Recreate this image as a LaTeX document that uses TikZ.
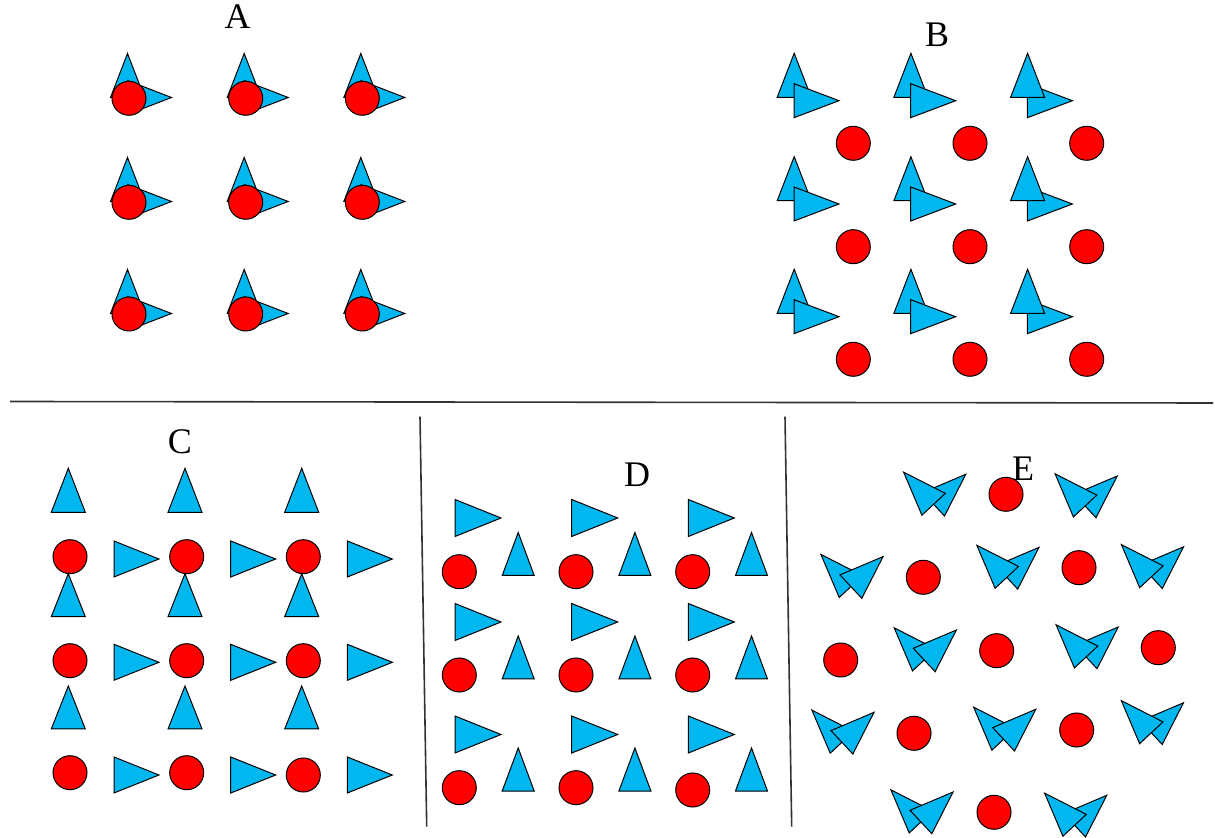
\documentclass[tikz,border=0pt]{standalone}
\usepackage{fontspec}
\setmainfont{Liberation Serif}
\usepackage{tikz}
\usepackage{xcolor}
\definecolor{molblue}{RGB}{0,183,240}
\definecolor{atomred}{RGB}{255,0,0}
\tikzset{
  tri/.style={draw=black,fill=molblue,line width=0.5pt,line join=miter},
  atom/.style={draw=black,fill=atomred,line width=0.5pt},
  divider/.style={draw=black!80,line width=0.8pt},
  panel/.style={inner sep=0pt,font=\fontsize{18}{20}\selectfont}
}

\begin{document}
\begin{tikzpicture}[x=0.5pt,y=-0.5pt]
\useasboundingbox (0,0) rectangle (1215,838);

\draw[divider] (10,401.5) -- (1213,403);
\draw[divider] (420,416.7) -- (426.7,826.7);
\draw[divider] (785,416.7) -- (791.7,826.7);

\node[panel] (labA) at (237.5,17) {A};
\node[panel] (labB) at (937,35) {B};
\node[panel] (labC) at (180,442) {C};
\node[panel] (labD) at (637,475) {D};
\node[panel] (labE) at (1023,469) {E};

\draw[tri] (127.5,97.5) ++(-17,0) -- ++(34,0) -- ++(-17,-44) -- cycle;
\draw[tri] (127.5,97.5) ++(0,-17) -- ++(0,34) -- ++(44,-17) -- cycle;
\draw[atom] (129,98.3) circle[radius=8.5pt];
\draw[tri] (244.2,97.5) ++(-17,0) -- ++(34,0) -- ++(-17,-44) -- cycle;
\draw[tri] (244.2,97.5) ++(0,-17) -- ++(0,34) -- ++(44,-17) -- cycle;
\draw[atom] (245.7,98.3) circle[radius=8.5pt];
\draw[tri] (360.8,97.5) ++(-17,0) -- ++(34,0) -- ++(-17,-44) -- cycle;
\draw[tri] (360.8,97.5) ++(0,-17) -- ++(0,34) -- ++(44,-17) -- cycle;
\draw[atom] (362.3,98.3) circle[radius=8.5pt];
\draw[tri] (127.5,201.5) ++(-17,0) -- ++(34,0) -- ++(-17,-44) -- cycle;
\draw[tri] (127.5,201.5) ++(0,-17) -- ++(0,34) -- ++(44,-17) -- cycle;
\draw[atom] (129,202.3) circle[radius=8.5pt];
\draw[tri] (244.2,201.5) ++(-17,0) -- ++(34,0) -- ++(-17,-44) -- cycle;
\draw[tri] (244.2,201.5) ++(0,-17) -- ++(0,34) -- ++(44,-17) -- cycle;
\draw[atom] (245.7,202.3) circle[radius=8.5pt];
\draw[tri] (360.8,201.5) ++(-17,0) -- ++(34,0) -- ++(-17,-44) -- cycle;
\draw[tri] (360.8,201.5) ++(0,-17) -- ++(0,34) -- ++(44,-17) -- cycle;
\draw[atom] (362.3,202.3) circle[radius=8.5pt];
\draw[tri] (127.5,313.5) ++(-17,0) -- ++(34,0) -- ++(-17,-44) -- cycle;
\draw[tri] (127.5,313.5) ++(0,-17) -- ++(0,34) -- ++(44,-17) -- cycle;
\draw[atom] (129,314) circle[radius=8.5pt];
\draw[tri] (244.2,313.5) ++(-17,0) -- ++(34,0) -- ++(-17,-44) -- cycle;
\draw[tri] (244.2,313.5) ++(0,-17) -- ++(0,34) -- ++(44,-17) -- cycle;
\draw[atom] (245.7,314) circle[radius=8.5pt];
\draw[tri] (360.8,313.5) ++(-17,0) -- ++(34,0) -- ++(-17,-44) -- cycle;
\draw[tri] (360.8,313.5) ++(0,-17) -- ++(0,34) -- ++(44,-17) -- cycle;
\draw[atom] (362.3,314) circle[radius=8.5pt];

\draw[tri] (794.2,97.3) ++(-17,0) -- ++(34,0) -- ++(-17,-44) -- cycle;
\draw[tri] (794,100.7) ++(0,-17) -- ++(0,34) -- ++(45,-17) -- cycle;
\draw[atom] (853.3,143.3) circle[radius=8.5pt];
\draw[tri] (910.9,97.3) ++(-17,0) -- ++(34,0) -- ++(-17,-44) -- cycle;
\draw[tri] (910.7,100.7) ++(0,-17) -- ++(0,34) -- ++(45,-17) -- cycle;
\draw[atom] (970,143.3) circle[radius=8.5pt];
\draw[tri] (1027.4,100.7) ++(0,-17) -- ++(0,34) -- ++(45,-17) -- cycle;
\draw[tri] (1027.6,97.3) ++(-17,0) -- ++(34,0) -- ++(-17,-44) -- cycle;
\draw[atom] (1086.7,143.3) circle[radius=8.5pt];
\draw[tri] (794.2,200.7) ++(-17,0) -- ++(34,0) -- ++(-17,-44) -- cycle;
\draw[tri] (794,204) ++(0,-17) -- ++(0,34) -- ++(45,-17) -- cycle;
\draw[atom] (853.3,246.7) circle[radius=8.5pt];
\draw[tri] (910.9,200.7) ++(-17,0) -- ++(34,0) -- ++(-17,-44) -- cycle;
\draw[tri] (910.7,204) ++(0,-17) -- ++(0,34) -- ++(45,-17) -- cycle;
\draw[atom] (970,246.7) circle[radius=8.5pt];
\draw[tri] (1027.4,204) ++(0,-17) -- ++(0,34) -- ++(45,-17) -- cycle;
\draw[tri] (1027.6,200.7) ++(-17,0) -- ++(34,0) -- ++(-17,-44) -- cycle;
\draw[atom] (1086.7,246.7) circle[radius=8.5pt];
\draw[tri] (794.2,313.3) ++(-17,0) -- ++(34,0) -- ++(-17,-44) -- cycle;
\draw[tri] (794,316.7) ++(0,-17) -- ++(0,34) -- ++(45,-17) -- cycle;
\draw[atom] (853.3,359.3) circle[radius=8.5pt];
\draw[tri] (910.9,313.3) ++(-17,0) -- ++(34,0) -- ++(-17,-44) -- cycle;
\draw[tri] (910.7,316.7) ++(0,-17) -- ++(0,34) -- ++(45,-17) -- cycle;
\draw[atom] (970,359.3) circle[radius=8.5pt];
\draw[tri] (1027.4,316.7) ++(0,-17) -- ++(0,34) -- ++(45,-17) -- cycle;
\draw[tri] (1027.6,313.3) ++(-17,0) -- ++(34,0) -- ++(-17,-44) -- cycle;
\draw[atom] (1086.7,359.3) circle[radius=8.5pt];

\draw[tri] (68.3,512.3) ++(-17,0) -- ++(34,0) -- ++(-17,-44) -- cycle;
\draw[tri] (185,512.3) ++(-17,0) -- ++(34,0) -- ++(-17,-44) -- cycle;
\draw[tri] (301.7,512.3) ++(-17,0) -- ++(34,0) -- ++(-17,-44) -- cycle;
\draw[atom] (70,556.7) circle[radius=8.5pt];
\draw[atom] (186.7,556.7) circle[radius=8.5pt];
\draw[atom] (303.3,556.7) circle[radius=8.5pt];
\draw[tri] (114,559) ++(0,-18) -- ++(0,36) -- ++(45,-18) -- cycle;
\draw[tri] (230.7,559) ++(0,-18) -- ++(0,36) -- ++(45,-18) -- cycle;
\draw[tri] (347.3,559) ++(0,-18) -- ++(0,36) -- ++(45,-18) -- cycle;
\draw[tri] (68.3,616.7) ++(-17,0) -- ++(34,0) -- ++(-17,-43) -- cycle;
\draw[tri] (185,616.7) ++(-17,0) -- ++(34,0) -- ++(-17,-43) -- cycle;
\draw[tri] (301.7,616.7) ++(-17,0) -- ++(34,0) -- ++(-17,-43) -- cycle;
\draw[atom] (70,660.7) circle[radius=8.5pt];
\draw[atom] (186.7,660.7) circle[radius=8.5pt];
\draw[atom] (303.3,660.7) circle[radius=8.5pt];
\draw[tri] (114,662.3) ++(0,-18) -- ++(0,36) -- ++(45,-18) -- cycle;
\draw[tri] (230.7,662.3) ++(0,-18) -- ++(0,36) -- ++(45,-18) -- cycle;
\draw[tri] (347.3,662.3) ++(0,-18) -- ++(0,36) -- ++(45,-18) -- cycle;
\draw[tri] (68.3,729) ++(-17,0) -- ++(34,0) -- ++(-17,-43) -- cycle;
\draw[tri] (185,729) ++(-17,0) -- ++(34,0) -- ++(-17,-43) -- cycle;
\draw[tri] (301.7,729) ++(-17,0) -- ++(34,0) -- ++(-17,-43) -- cycle;
\draw[atom] (70,772.7) circle[radius=8.5pt];
\draw[atom] (186.7,772.7) circle[radius=8.5pt];
\draw[atom] (303.3,775) circle[radius=8.5pt];
\draw[tri] (114,775) ++(0,-18) -- ++(0,36) -- ++(45,-18) -- cycle;
\draw[tri] (230.7,775) ++(0,-18) -- ++(0,36) -- ++(45,-18) -- cycle;
\draw[tri] (347.3,775) ++(0,-18) -- ++(0,36) -- ++(45,-18) -- cycle;

\draw[tri] (455,518) ++(0,-18.5) -- ++(0,37) -- ++(46,-18.5) -- cycle;
\draw[tri] (571.7,518) ++(0,-18.5) -- ++(0,37) -- ++(46,-18.5) -- cycle;
\draw[tri] (688.3,518) ++(0,-18.5) -- ++(0,37) -- ++(46,-18.5) -- cycle;
\draw[tri] (518.2,575.5) ++(-16,0) -- ++(32,0) -- ++(-16,-43) -- cycle;
\draw[tri] (634.9,575.5) ++(-16,0) -- ++(32,0) -- ++(-16,-43) -- cycle;
\draw[tri] (751.5,575.5) ++(-16,0) -- ++(32,0) -- ++(-16,-43) -- cycle;
\draw[atom] (459.3,571.7) circle[radius=8.5pt];
\draw[atom] (576,571.7) circle[radius=8.5pt];
\draw[atom] (692.7,571.7) circle[radius=8.5pt];
\draw[tri] (455,622) ++(0,-18.5) -- ++(0,37) -- ++(46,-18.5) -- cycle;
\draw[tri] (571.7,622) ++(0,-18.5) -- ++(0,37) -- ++(46,-18.5) -- cycle;
\draw[tri] (688.3,622) ++(0,-18.5) -- ++(0,37) -- ++(46,-18.5) -- cycle;
\draw[tri] (518.2,679) ++(-16,0) -- ++(32,0) -- ++(-16,-43) -- cycle;
\draw[tri] (634.9,679) ++(-16,0) -- ++(32,0) -- ++(-16,-43) -- cycle;
\draw[tri] (751.5,679) ++(-16,0) -- ++(32,0) -- ++(-16,-43) -- cycle;
\draw[atom] (459.3,675) circle[radius=8.5pt];
\draw[atom] (576,675) circle[radius=8.5pt];
\draw[atom] (692.7,675) circle[radius=8.5pt];
\draw[tri] (455,734.5) ++(0,-18.5) -- ++(0,37) -- ++(46,-18.5) -- cycle;
\draw[tri] (571.7,734.5) ++(0,-18.5) -- ++(0,37) -- ++(46,-18.5) -- cycle;
\draw[tri] (688.3,734.5) ++(0,-18.5) -- ++(0,37) -- ++(46,-18.5) -- cycle;
\draw[tri] (518.2,791) ++(-16,0) -- ++(32,0) -- ++(-16,-43) -- cycle;
\draw[tri] (634.9,791) ++(-16,0) -- ++(32,0) -- ++(-16,-43) -- cycle;
\draw[tri] (751.5,791) ++(-16,0) -- ++(32,0) -- ++(-16,-43) -- cycle;
\draw[atom] (459.3,787.7) circle[radius=8.5pt];
\draw[atom] (576,787.7) circle[radius=8.5pt];
\draw[atom] (692.7,790) circle[radius=8.5pt];

\draw[tri,rotate around={43:(933.6,504.3)}] (933.6,504.3) ++(0,-16) -- ++(0,32) -- ++(44,-16) -- cycle;
\draw[tri,rotate around={43:(933.6,504.3)}] (933.6,504.3) ++(-16,0) -- ++(32,0) -- ++(-16,-44) -- cycle;
\draw[tri,rotate around={43:(1085.1,506)}] (1085.1,506) ++(0,-16) -- ++(0,32) -- ++(44,-16) -- cycle;
\draw[tri,rotate around={43:(1085.1,506)}] (1085.1,506) ++(-16,0) -- ++(32,0) -- ++(-16,-44) -- cycle;
\draw[tri,rotate around={43:(850.9,586.6)}] (850.9,586.6) ++(-16,0) -- ++(32,0) -- ++(-16,-44) -- cycle;
\draw[tri,rotate around={43:(850.9,586.6)}] (850.9,586.6) ++(0,-16) -- ++(0,32) -- ++(44,-16) -- cycle;
\draw[tri,rotate around={43:(1006.8,577.4)}] (1006.8,577.4) ++(0,-16) -- ++(0,32) -- ++(44,-16) -- cycle;
\draw[tri,rotate around={43:(1006.8,577.4)}] (1006.8,577.4) ++(-16,0) -- ++(32,0) -- ++(-16,-44) -- cycle;
\draw[tri,rotate around={43:(1151.4,576.8)}] (1151.4,576.8) ++(0,-16) -- ++(0,32) -- ++(44,-16) -- cycle;
\draw[tri,rotate around={43:(1151.4,576.8)}] (1151.4,576.8) ++(-16,0) -- ++(32,0) -- ++(-16,-44) -- cycle;
\draw[tri,rotate around={43:(924.2,660)}] (924.2,660) ++(-16,0) -- ++(32,0) -- ++(-16,-44) -- cycle;
\draw[tri,rotate around={43:(924.2,660)}] (924.2,660) ++(0,-16) -- ++(0,32) -- ++(44,-16) -- cycle;
\draw[tri,rotate around={43:(1086.1,657)}] (1086.1,657) ++(0,-16) -- ++(0,32) -- ++(44,-16) -- cycle;
\draw[tri,rotate around={43:(1086.1,657)}] (1086.1,657) ++(-16,0) -- ++(32,0) -- ++(-16,-44) -- cycle;
\draw[tri,rotate around={43:(841.9,742.3)}] (841.9,742.3) ++(-16,0) -- ++(32,0) -- ++(-16,-44) -- cycle;
\draw[tri,rotate around={43:(841.9,742.3)}] (841.9,742.3) ++(0,-16) -- ++(0,32) -- ++(44,-16) -- cycle;
\draw[tri,rotate around={43:(1003.6,739.3)}] (1003.6,739.3) ++(-16,0) -- ++(32,0) -- ++(-16,-44) -- cycle;
\draw[tri,rotate around={43:(1003.6,739.3)}] (1003.6,739.3) ++(0,-16) -- ++(0,32) -- ++(44,-16) -- cycle;
\draw[tri,rotate around={43:(1151.3,732.8)}] (1151.3,732.8) ++(0,-16) -- ++(0,32) -- ++(44,-16) -- cycle;
\draw[tri,rotate around={43:(1151.3,732.8)}] (1151.3,732.8) ++(-16,0) -- ++(32,0) -- ++(-16,-44) -- cycle;
\draw[tri,rotate around={43:(920.9,822)}] (920.9,822) ++(-16,0) -- ++(32,0) -- ++(-16,-44) -- cycle;
\draw[tri,rotate around={43:(920.9,822)}] (920.9,822) ++(0,-16) -- ++(0,32) -- ++(44,-16) -- cycle;
\draw[tri,rotate around={43:(1074.6,825.3)}] (1074.6,825.3) ++(0,-16) -- ++(0,32) -- ++(44,-16) -- cycle;
\draw[tri,rotate around={43:(1074.6,825.3)}] (1074.6,825.3) ++(-16,0) -- ++(32,0) -- ++(-16,-44) -- cycle;
\draw[atom] (1006,494.3) circle[radius=8.5pt];
\draw[atom] (923.3,577.3) circle[radius=8.5pt];
\draw[atom] (1079,567.7) circle[radius=8.5pt];
\draw[atom] (840.7,660) circle[radius=8.5pt];
\draw[atom] (996.7,650.7) circle[radius=8.5pt];
\draw[atom] (1158.3,647.7) circle[radius=8.5pt];
\draw[atom] (914,733.3) circle[radius=8.5pt];
\draw[atom] (1076.7,730) circle[radius=8.5pt];
\draw[atom] (994,812.3) circle[radius=8.5pt];
\end{tikzpicture}
\end{document}
